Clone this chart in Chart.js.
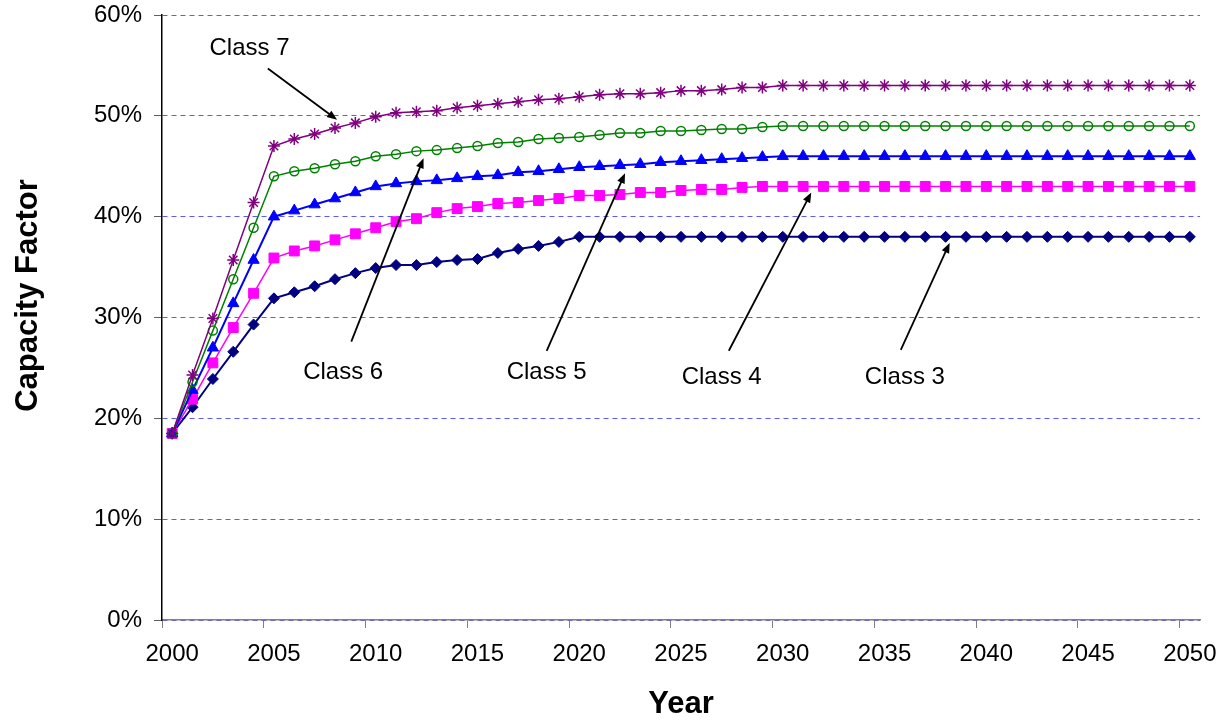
<!DOCTYPE html>
<html lang="en">
  <head>
    <meta charset="UTF-8" />
    <title>Capacity Factor by Class</title>
    <script src="https://cdn.jsdelivr.net/npm/chart.js"></script>
    <style>
      body { margin: 0; background: #fff; }
    </style>
  </head>
  <body>
    <canvas id="cfChart" width="1230" height="723"></canvas>

    <script>
      // Years on the x axis
      const years = [
        2000, 2001, 2002, 2003, 2004, 2005, 2006, 2007, 2008, 2009,
        2010, 2011, 2012, 2013, 2014, 2015, 2016, 2017, 2018, 2019,
        2020, 2021, 2022, 2023, 2024, 2025, 2026, 2027, 2028, 2029,
        2030, 2031, 2032, 2033, 2034, 2035, 2036, 2037, 2038, 2039,
        2040, 2041, 2042, 2043, 2044, 2045, 2046, 2047, 2048, 2049, 2050
      ];

      // Capacity factor (%) per wind class
      const class3 = [
        18.5, 21.1, 23.9, 26.6, 29.3, 31.9, 32.5, 33.1, 33.8, 34.4,
        34.9, 35.2, 35.2, 35.5, 35.7, 35.8, 36.4, 36.8, 37.1, 37.5,
        38.0, 38.0, 38.0, 38.0, 38.0, 38.0, 38.0, 38.0, 38.0, 38.0,
        38.0, 38.0, 38.0, 38.0, 38.0, 38.0, 38.0, 38.0, 38.0, 38.0,
        38.0, 38.0, 38.0, 38.0, 38.0, 38.0, 38.0, 38.0, 38.0, 38.0, 38.0
      ];
      const class4 = [
        18.5, 21.9, 25.5, 29.0, 32.4, 35.9, 36.6, 37.1, 37.7, 38.3,
        38.9, 39.5, 39.8, 40.4, 40.8, 41.0, 41.3, 41.4, 41.6, 41.8,
        42.1, 42.1, 42.2, 42.4, 42.4, 42.6, 42.7, 42.7, 42.9, 43.0,
        43.0, 43.0, 43.0, 43.0, 43.0, 43.0, 43.0, 43.0, 43.0, 43.0,
        43.0, 43.0, 43.0, 43.0, 43.0, 43.0, 43.0, 43.0, 43.0, 43.0, 43.0
      ];
      const class5 = [
        18.5, 22.8, 27.0, 31.4, 35.7, 40.0, 40.6, 41.2, 41.8, 42.4,
        43.0, 43.3, 43.5, 43.6, 43.8, 44.0, 44.1, 44.4, 44.5, 44.7,
        44.9, 45.0, 45.1, 45.2, 45.4, 45.5, 45.6, 45.7, 45.8, 45.9,
        46.0, 46.0, 46.0, 46.0, 46.0, 46.0, 46.0, 46.0, 46.0, 46.0,
        46.0, 46.0, 46.0, 46.0, 46.0, 46.0, 46.0, 46.0, 46.0, 46.0, 46.0
      ];
      const class6 = [
        18.5, 23.6, 28.7, 33.8, 38.9, 44.0, 44.5, 44.8, 45.2, 45.5,
        46.0, 46.2, 46.5, 46.6, 46.8, 47.0, 47.3, 47.4, 47.7, 47.8,
        47.9, 48.1, 48.3, 48.3, 48.5, 48.5, 48.6, 48.7, 48.7, 48.9,
        49.0, 49.0, 49.0, 49.0, 49.0, 49.0, 49.0, 49.0, 49.0, 49.0,
        49.0, 49.0, 49.0, 49.0, 49.0, 49.0, 49.0, 49.0, 49.0, 49.0, 49.0
      ];
      const class7 = [
        18.5, 24.3, 29.9, 35.7, 41.4, 47.0, 47.7, 48.2, 48.8, 49.3,
        49.9, 50.3, 50.4, 50.5, 50.8, 51.0, 51.2, 51.4, 51.6, 51.7,
        51.9, 52.1, 52.2, 52.2, 52.3, 52.5, 52.5, 52.6, 52.8, 52.8,
        53.0, 53.0, 53.0, 53.0, 53.0, 53.0, 53.0, 53.0, 53.0, 53.0,
        53.0, 53.0, 53.0, 53.0, 53.0, 53.0, 53.0, 53.0, 53.0, 53.0, 53.0
      ];

      const yTicks = [0, 10, 20, 30, 40, 50, 60];

      // Callout labels with arrows, positions in data units (year index, %)
      const callouts = [
        { text: "Class 7", at: [3.8, 56.7], from: [4.7, 54.7], to: [8.1, 49.6] },
        { text: "Class 6", at: [8.4, 24.6], from: [8.8, 27.6], to: [12.35, 45.8] },
        { text: "Class 5", at: [18.4, 24.6], from: [18.4, 26.7], to: [22.25, 44.3] },
        { text: "Class 4", at: [27.0, 24.1], from: [27.35, 26.7], to: [31.4, 42.4] },
        { text: "Class 3", at: [36.0, 24.1], from: [35.8, 26.8], to: [38.2, 37.4] },
      ];

      const FONT = '"Liberation Sans", Arial, sans-serif';

      function drawArrow(ctx, x1, y1, x2, y2) {
        const ang = Math.atan2(y2 - y1, x2 - x1);
        const len = 10, half = 4;
        ctx.beginPath();
        ctx.moveTo(x1, y1);
        ctx.lineTo(x2 - Math.cos(ang) * len * 0.8, y2 - Math.sin(ang) * len * 0.8);
        ctx.stroke();
        ctx.beginPath();
        ctx.moveTo(x2, y2);
        ctx.lineTo(
          x2 - Math.cos(ang) * len + Math.sin(ang) * half,
          y2 - Math.sin(ang) * len - Math.cos(ang) * half
        );
        ctx.lineTo(
          x2 - Math.cos(ang) * len - Math.sin(ang) * half,
          y2 - Math.sin(ang) * len + Math.cos(ang) * half
        );
        ctx.closePath();
        ctx.fill();
      }

      // draws the callouts and the y axis title
      const calloutPlugin = {
        id: "callouts",
        afterDatasetsDraw(chart) {
          const { ctx, scales, chartArea } = chart;
          const x = scales.x, y = scales.y;
          ctx.save();
          ctx.fillStyle = "#000";
          ctx.strokeStyle = "#000";
          ctx.lineWidth = 1.8;
          ctx.font = "24px " + FONT;
          ctx.textAlign = "center";
          ctx.textBaseline = "middle";
          callouts.forEach((c) => {
            ctx.fillText(c.text, x.getPixelForValue(c.at[0]), y.getPixelForValue(c.at[1]));
            drawArrow(
              ctx,
              x.getPixelForValue(c.from[0]), y.getPixelForValue(c.from[1]),
              x.getPixelForValue(c.to[0]), y.getPixelForValue(c.to[1])
            );
          });
          // y axis title
          ctx.font = "bold 31px " + FONT;
          ctx.translate(28, (chartArea.top + chartArea.bottom) / 2 - 22);
          ctx.rotate(-Math.PI / 2);
          ctx.fillText("Capacity Factor", 0, 0);
          ctx.restore();
        },
      };

      function series(label, data, color, style, radius, width, fill) {
        return {
          label: label,
          data: data,
          borderColor: color,
          borderWidth: width,
          pointStyle: style,
          pointRadius: radius,
          pointBackgroundColor: fill ? color : "rgba(0,0,0,0)",
          pointBorderColor: color,
          pointBorderWidth: fill ? 1 : 1.5,
          fill: false,
          tension: 0,
        };
      }

      const ctx = document.getElementById("cfChart").getContext("2d");
      new Chart(ctx, {
        type: "line",
        data: {
          labels: years,
          datasets: [
            series("Class 7", class7, "#800080", "star", 6, 1.5, false),
            series("Class 6", class6, "#008000", "circle", 4.5, 1.5, false),
            series("Class 5", class5, "#0000ff", "triangle", 6.5, 2, true),
            series("Class 4", class4, "#ff00ff", "rect", 7, 1.5, true),
            series("Class 3", class3, "#000080", "rectRot", 5.5, 2, true),
          ],
        },
        options: {
          responsive: false,
          animation: false,
          layout: { padding: { top: 15, right: 30, left: 0, bottom: 0 } },
          plugins: {
            legend: { display: false },
            tooltip: { enabled: false },
          },
          scales: {
            x: {
              type: "category",
              offset: true,
              afterFit: (scale) => {
                scale.height = 103;
                scale.paddingLeft = 0;
                scale.paddingRight = 0;
              },
              grid: {
                offset: true,
                drawOnChartArea: false,
                tickLength: 8,
                tickColor: (c) => (c.index % 5 === 0 && c.index < years.length ? "#808080" : "rgba(0,0,0,0)"),
              },
              border: { color: "#808080", width: 1.5 },
              ticks: {
                autoSkip: false,
                maxRotation: 0,
                minRotation: 0,
                padding: 12,
                color: "#000",
                font: { family: FONT, size: 24 },
                callback: function (val, i) {
                  return i % 5 === 0 ? years[i] : "";
                },
              },
              title: {
                display: true,
                text: "Year",
                color: "#000",
                padding: { top: 0, bottom: 0 },
                font: { family: FONT, size: 31, weight: "bold" },
              },
            },
            y: {
              min: yTicks[0],
              max: yTicks[yTicks.length - 1],
              afterFit: (scale) => {
                scale.width = 162;
                scale.paddingTop = 0;
                scale.paddingBottom = 0;
              },
              afterBuildTicks: (scale) => {
                scale.ticks = yTicks.map((v) => ({ value: v }));
              },
              grid: {
                color: "#5a5aff",
                lineWidth: 1,
                tickLength: 8,
                tickColor: "#606060",
              },
              border: { color: "#000", width: 1.5, dash: [5, 4] },
              ticks: {
                padding: 12,
                color: "#000",
                font: { family: FONT, size: 24 },
                callback: (v) => v + "%",
              },
            },
          },
        },
        plugins: [calloutPlugin],
      });
    </script>
  </body>
</html>
